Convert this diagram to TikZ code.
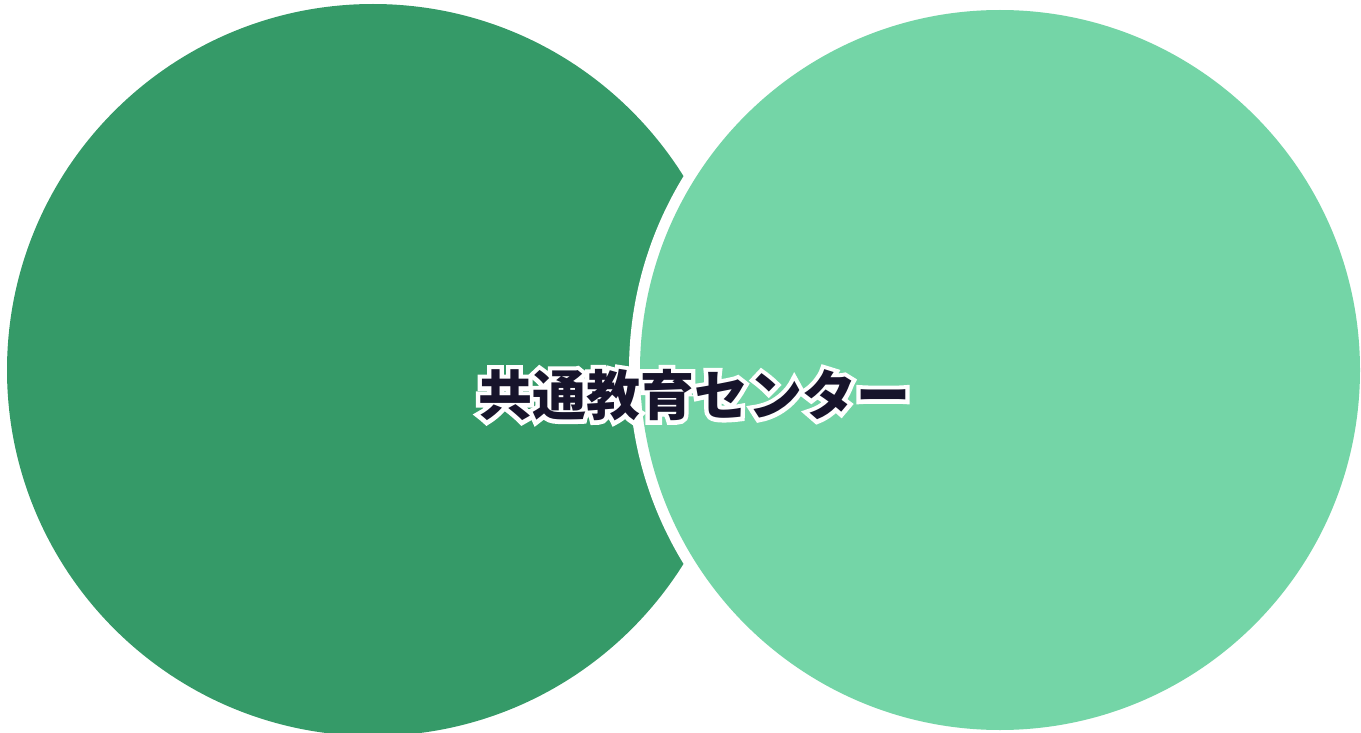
\documentclass[tikz,border=0pt]{standalone}
\usepackage{fontspec}
\newfontfamily\cjk{Noto Sans CJK JP}
\newfontfamily\cjkhalo[FakeBold=16,BoldFeatures={FakeBold=16}]{Noto Sans CJK JP}
\definecolor{darkg}{HTML}{359A68}
\definecolor{lightg}{HTML}{74D5A7}
\definecolor{ink}{HTML}{17142B}
\tikzset{
  lbl/.style={font=\cjk\bfseries\fontsize{27}{31}\selectfont, inner sep=0pt},
  halo/.style={font=\cjkhalo\bfseries\fontsize{27}{31}\selectfont, inner sep=0pt, text=white}
}
\begin{document}
\begin{tikzpicture}[x=0.5pt,y=-0.5pt]
\useasboundingbox (0,0) rectangle (1361,733);
\begin{scope}
\clip (0,0) rectangle (1361,733);
\fill[darkg] (373,370) circle[radius=366];
\fill[white] (1000,370) circle[radius=371];
\fill[lightg] (1000,370) circle[radius=360];
\end{scope}
\node[halo] (h) at (694,395) {共通教育センター};
\node[lbl, text=ink] (t) at (694,395) {共通教育センター};
\end{tikzpicture}
\end{document}
